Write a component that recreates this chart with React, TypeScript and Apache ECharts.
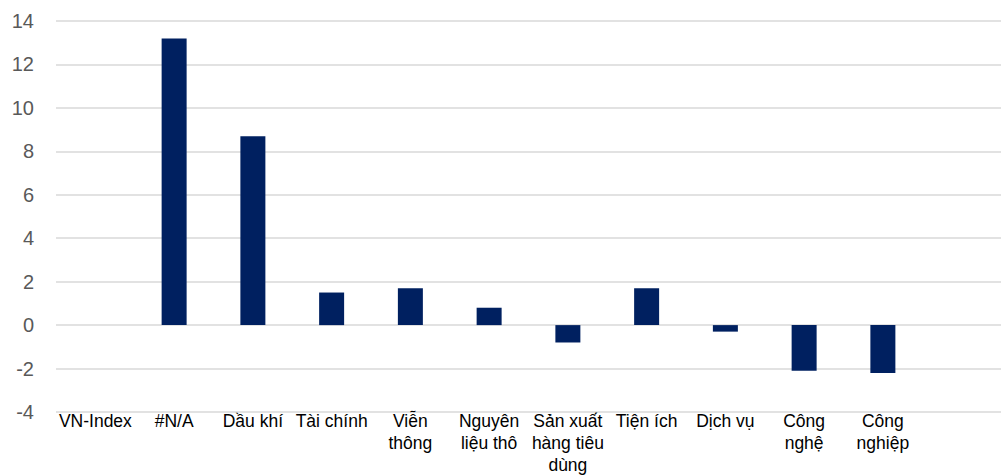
import React, { useEffect, useRef } from "react";
import * as echarts from "echarts";

const categories = [
  "VN-Index",
  "#N/A",
  "Dầu khí",
  "Tài chính",
  "Viễn\nthông",
  "Nguyên\nliệu thô",
  "Sản xuất\nhàng tiêu\ndùng",
  "Tiện ích",
  "Dịch vụ",
  "Công\nnghệ",
  "Công\nnghiệp",
  "",
];
const values: (number | null)[] = [0, 13.2, 8.7, 1.5, 1.7, 0.8, -0.8, 1.7, -0.3, -2.1, -2.2, null];
const yMin = -4;
const yMax = 14;
const yStep = 2;

export default function App() {
  const ref = useRef<HTMLDivElement>(null);
  useEffect(() => {
    if (!ref.current) return;
    const chart = echarts.init(ref.current, undefined, { renderer: "svg" });
    chart.setOption({
      animation: false,
      backgroundColor: "#ffffff",
      grid: { left: 56, top: 21, width: 950, bottom: 57, containLabel: false },
      xAxis: {
        type: "category",
        data: categories,
        boundaryGap: true,
        axisLine: { show: false },
        axisTick: { show: false },
        axisLabel: {
          interval: 0,
          margin: -2,
          color: "#000000",
          fontFamily: "Liberation Sans, Arial, sans-serif",
          fontSize: 17.5,
          lineHeight: 22,
          align: "center",
        },
      },
      yAxis: {
        type: "value",
        min: yMin,
        max: yMax,
        interval: yStep,
        axisLine: { show: false },
        axisTick: { show: false },
        splitLine: { lineStyle: { color: "#d9d9d9", width: 1.5 } },
        axisLabel: {
          margin: 22,
          color: "#595959",
          fontFamily: "Liberation Sans, Arial, sans-serif",
          fontSize: 20,
        },
      },
      series: [
        {
          type: "bar",
          data: values,
          barWidth: 25,
          itemStyle: { color: "#002060" },
        },
      ],
    });
    return () => chart.dispose();
  }, []);
  return (
    <div
      ref={ref}
      style={{ position: "fixed", left: 0, top: 0, width: 1001, height: 476, background: "#fff" }}
    />
  );
}
